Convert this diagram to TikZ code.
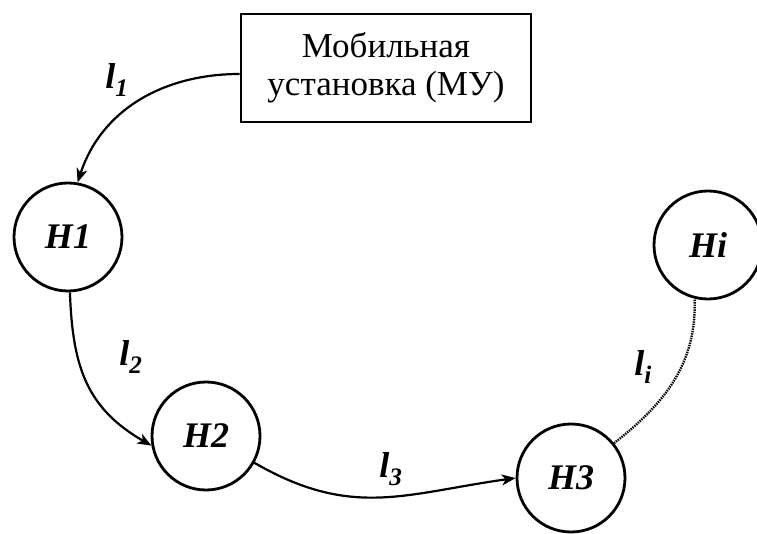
\documentclass[tikz,border=0pt]{standalone}
\usepackage{fontspec}
\setmainfont{Liberation Serif}
\usetikzlibrary{arrows.meta}
\begin{document}
\begin{tikzpicture}[x=1pt,y=-1pt,
  hub/.style={circle,draw,line width=2.8pt,minimum size=108pt,inner sep=0pt,
    font=\fontsize{36}{36}\selectfont\bfseries\itshape},
  unit/.style={draw,line width=2.8pt,minimum width=290pt,minimum height=108pt,
    align=center,inner sep=0pt,font=\fontsize{35}{38}\selectfont},
  link/.style={line width=2.2pt,-{Stealth[length=14pt,width=11pt,inset=4pt]}},
  weak/.style={line width=2.4pt,dash pattern=on 1.4pt off 1pt},
  lab/.style={font=\fontsize{36}{36}\selectfont\bfseries\itshape}]
  \useasboundingbox (0,0) rectangle (757,534);

  % mobile unit and hubs
  \node[unit] (mu) at (386,68) {Мобильная\\установка (МУ)};
  \node[hub] (h1) at (68,237) {H1};
  \node[hub] (h2) at (206,436) {H2};
  \node[hub] (h3) at (571,478) {H3};
  \node[hub] (hi) at (708,245) {Hi};

  % route segments
  \draw[link] ([yshift=-6pt]mu.west) to[out=180,in=72] (h1.80);
  \draw[link] (h1.272) to[out=-88,in=150,looseness=1.1] (h2.190);
  \draw[link] (h2.-29) to[out=-30,in=188,looseness=1.1] (h3.180);
  \draw[weak] (h3.39) to[out=38,in=-88] (hi.-104);

  % segment labels
  \node[lab] (t1) at (117,80) {l\textsubscript{1}};
  \node[lab] (t2) at (131,357) {l\textsubscript{2}};
  \node[lab] (t3) at (391,469) {l\textsubscript{3}};
  \node[lab] (ti) at (643,367) {l\textsubscript{i}};
\end{tikzpicture}
\end{document}
